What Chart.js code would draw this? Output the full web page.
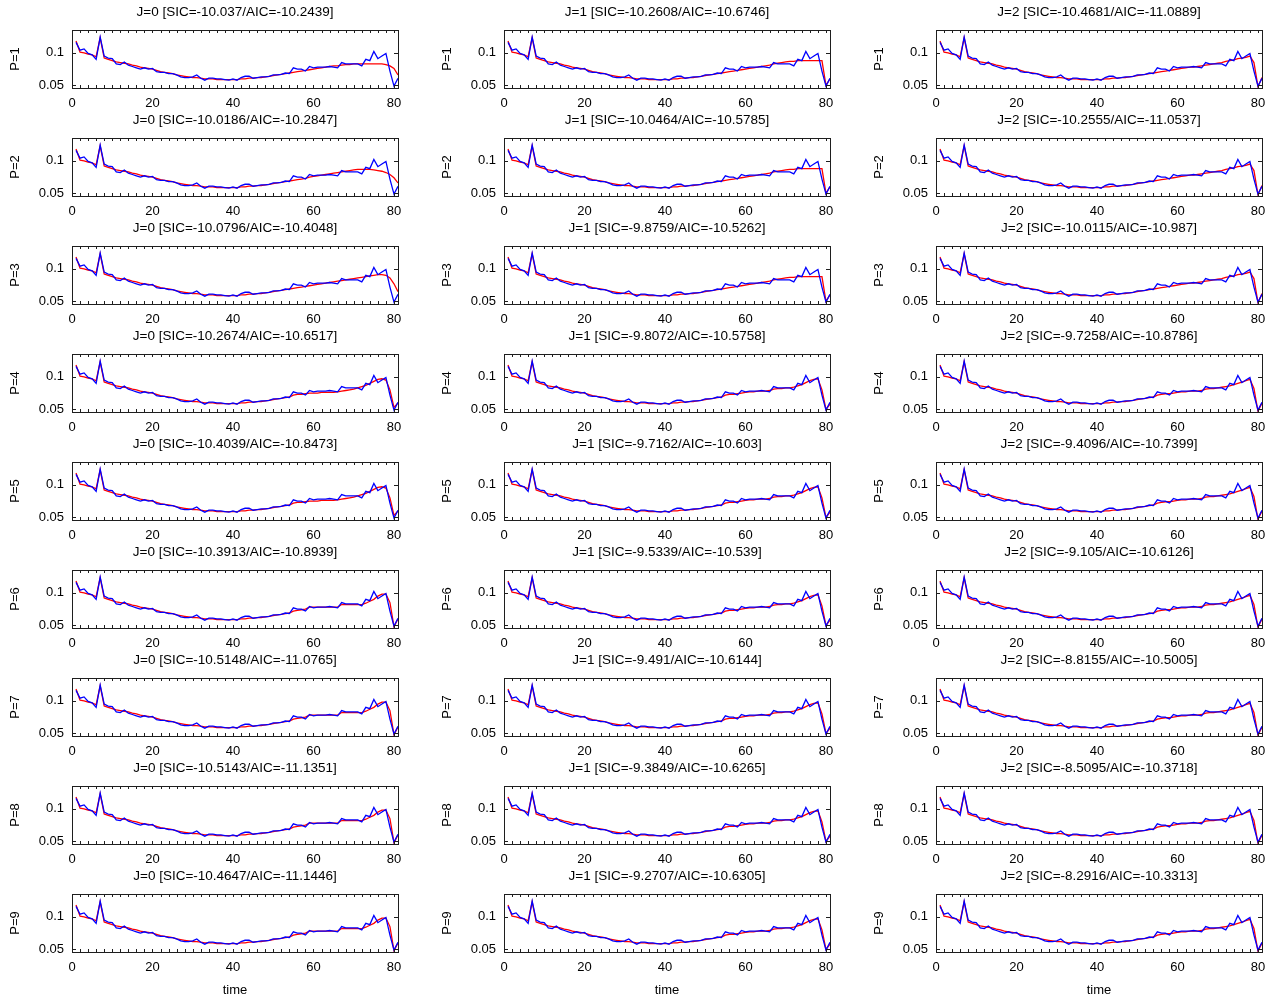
<!DOCTYPE html>
<html>
<head>
<meta charset="utf-8">
<script src="https://cdn.jsdelivr.net/npm/chart.js@4.4.1/dist/chart.umd.min.js"></script>
<style>
  html, body { margin: 0; padding: 0; background: #fff; }
  #grid { position: relative; width: 1276px; height: 1004px; overflow: hidden; }
  #grid canvas { position: absolute; }
</style>
</head>
<body>
<div id="grid"></div>
<script>
// ---- data -------------------------------------------------------------
const timeSteps = Array.from({ length: 81 }, (_, i) => i + 1);

// observed series (blue), t = 1..81
const observed = [
  0.116, 0.104, 0.106, 0.099, 0.097, 0.090, 0.124, 0.095, 0.092, 0.091,
  0.083, 0.082, 0.086, 0.081, 0.079, 0.077, 0.075, 0.077, 0.075, 0.076,
  0.071, 0.070, 0.070, 0.068, 0.068, 0.066, 0.063, 0.062, 0.062, 0.063,
  0.066, 0.061, 0.058, 0.061, 0.061, 0.060, 0.060, 0.059, 0.058, 0.060,
  0.058, 0.062, 0.064, 0.064, 0.061, 0.062, 0.063, 0.063, 0.064, 0.066,
  0.066, 0.067, 0.069, 0.068, 0.077, 0.075, 0.075, 0.072, 0.079, 0.077,
  0.078, 0.078, 0.078, 0.079, 0.078, 0.077, 0.085, 0.083, 0.083, 0.083,
  0.083, 0.080, 0.090, 0.088, 0.102, 0.091, 0.095, 0.099, 0.072, 0.049, 0.061
];

// fitted series (red): common part t = 1..54
const fitHead = [
  0.118, 0.101, 0.100, 0.098, 0.097, 0.094, 0.123, 0.092, 0.090, 0.088,
  0.086, 0.085, 0.084, 0.083, 0.081, 0.080, 0.078, 0.077, 0.076, 0.075,
  0.073, 0.071, 0.070, 0.069, 0.068, 0.066, 0.065, 0.064, 0.063, 0.062,
  0.062, 0.061, 0.060, 0.060, 0.060, 0.059, 0.059, 0.059, 0.059, 0.059,
  0.059, 0.060, 0.060, 0.061, 0.061, 0.062, 0.062, 0.063, 0.064, 0.065,
  0.066, 0.067, 0.068, 0.069
];

// fitted series (red): model-specific part t = 55..81
const tailJ0P1 = [0.070,0.071,0.072,0.073,0.074,0.075,0.076,0.077,0.078,0.079,0.080,0.080,0.081,0.082,0.082,0.083,0.083,0.083,0.083,0.083,0.083,0.083,0.083,0.082,0.080,0.076,0.066];
const tailJ0P2 = [0.070,0.071,0.072,0.073,0.075,0.076,0.077,0.078,0.079,0.080,0.081,0.082,0.083,0.084,0.085,0.086,0.087,0.087,0.087,0.087,0.086,0.085,0.084,0.082,0.079,0.074,0.066];
const tailJ0P3 = [0.070,0.071,0.072,0.073,0.074,0.075,0.076,0.077,0.078,0.079,0.080,0.081,0.082,0.083,0.084,0.085,0.086,0.087,0.088,0.089,0.090,0.091,0.091,0.090,0.086,0.077,0.065];
const tailJ0P4 = [0.072,0.073,0.073,0.074,0.075,0.075,0.075,0.076,0.076,0.076,0.076,0.077,0.078,0.079,0.080,0.081,0.083,0.085,0.087,0.090,0.093,0.096,0.097,0.095,0.080,0.053,0.060];
const tailJ0P6 = [0.072,0.073,0.074,0.075,0.078,0.078,0.078,0.078,0.078,0.078,0.078,0.078,0.082,0.082,0.082,0.082,0.082,0.082,0.084,0.087,0.090,0.095,0.098,0.098,0.085,0.048,0.060];
const tailJ1P1 = [0.070,0.071,0.072,0.073,0.074,0.075,0.076,0.077,0.078,0.079,0.080,0.081,0.083,0.084,0.085,0.086,0.087,0.087,0.088,0.088,0.088,0.088,0.088,0.088,0.088,0.050,0.060];
const tailJ1P4 = [0.072,0.073,0.073,0.074,0.075,0.076,0.077,0.077,0.078,0.078,0.078,0.079,0.081,0.082,0.082,0.083,0.083,0.084,0.086,0.088,0.091,0.094,0.096,0.097,0.080,0.050,0.058];
const tailJ2P1 = [0.070,0.071,0.072,0.073,0.074,0.075,0.076,0.077,0.078,0.078,0.079,0.080,0.081,0.082,0.083,0.084,0.085,0.087,0.088,0.089,0.091,0.092,0.093,0.095,0.085,0.048,0.062];
const tailJ2P4 = [0.072,0.073,0.074,0.074,0.075,0.076,0.077,0.077,0.078,0.078,0.078,0.079,0.081,0.082,0.082,0.083,0.084,0.085,0.086,0.088,0.090,0.092,0.094,0.096,0.082,0.047,0.060];

// which tail each (P row, J column) model uses
const tailByModel = [
  [tailJ0P1, tailJ1P1, tailJ2P1],
  [tailJ0P2, tailJ1P1, tailJ2P1],
  [tailJ0P3, tailJ1P1, tailJ2P1],
  [tailJ0P4, tailJ1P4, tailJ2P4],
  [tailJ0P4, tailJ1P4, tailJ2P4],
  [tailJ0P6, tailJ1P4, tailJ2P4],
  [tailJ0P6, tailJ1P4, tailJ2P4],
  [tailJ0P6, tailJ1P4, tailJ2P4],
  [tailJ0P6, tailJ1P4, tailJ2P4]
];

const jOrders = [0, 1, 2];
const pOrders = [1, 2, 3, 4, 5, 6, 7, 8, 9];

const sicValues = [
  ['-10.037',  '-10.2608', '-10.4681'],
  ['-10.0186', '-10.0464', '-10.2555'],
  ['-10.0796', '-9.8759',  '-10.0115'],
  ['-10.2674', '-9.8072',  '-9.7258'],
  ['-10.4039', '-9.7162',  '-9.4096'],
  ['-10.3913', '-9.5339',  '-9.105'],
  ['-10.5148', '-9.491',   '-8.8155'],
  ['-10.5143', '-9.3849',  '-8.5095'],
  ['-10.4647', '-9.2707',  '-8.2916']
];
const aicValues = [
  ['-10.2439', '-10.6746', '-11.0889'],
  ['-10.2847', '-10.5785', '-11.0537'],
  ['-10.4048', '-10.5262', '-10.987'],
  ['-10.6517', '-10.5758', '-10.8786'],
  ['-10.8473', '-10.603',  '-10.7399'],
  ['-10.8939', '-10.539',  '-10.6126'],
  ['-11.0765', '-10.6144', '-10.5005'],
  ['-11.1351', '-10.6265', '-10.3718'],
  ['-11.1446', '-10.6305', '-10.3313']
];

const xTickValues = [0, 20, 40, 60, 80];
const yTickValues = [0.05, 0.1];
const xMinorStep = 2;
const xRange = [0, 81];
const yRange = [0.046, 0.135];

// ---- layout -----------------------------------------------------------
const COL_PITCH = 432, ROW_PITCH = 108;
const AXIS_W = 72, TITLE_H = 30, PLOT_W = 326, PLOT_H = 58;
const XLAB_H = 22, XLAB_LAST_H = 52, RIGHT_PAD = 12;

Chart.defaults.font.family = '"Liberation Sans", Arial, Helvetica, sans-serif';
Chart.defaults.font.size = 13;
Chart.defaults.color = '#000';

// box around the plot area plus inward tick marks on all four sides
const frameAndTicks = {
  id: 'frameAndTicks',
  afterDatasetsDraw(chart) {
    const { ctx, chartArea: a, scales: { x, y } } = chart;
    ctx.save();
    ctx.strokeStyle = '#1e1e1e';
    ctx.lineWidth = 1;
    ctx.beginPath();
    for (let v = xTickValues[0]; v <= xTickValues[xTickValues.length - 1]; v += xMinorStep) {
      const px = Math.round(x.getPixelForValue(v)) + 0.5;
      ctx.moveTo(px, a.bottom); ctx.lineTo(px, a.bottom - 3);
      ctx.moveTo(px, a.top);    ctx.lineTo(px, a.top + 3);
    }
    yTickValues.forEach(v => {
      const py = Math.round(y.getPixelForValue(v)) + 0.5;
      ctx.moveTo(a.left, py);  ctx.lineTo(a.left + 4, py);
      ctx.moveTo(a.right, py); ctx.lineTo(a.right - 4, py);
    });
    ctx.stroke();
    ctx.strokeRect(Math.round(a.left) + 0.5, Math.round(a.top) + 0.5,
                   Math.round(a.width), Math.round(a.height));
    ctx.restore();
  }
};

const grid = document.getElementById('grid');

pOrders.forEach((p, r) => {
  jOrders.forEach((j, c) => {
    const lastRow = r === pOrders.length - 1;
    const xh = lastRow ? XLAB_LAST_H : XLAB_H;
    const canvas = document.createElement('canvas');
    canvas.width = AXIS_W + PLOT_W + RIGHT_PAD;
    canvas.height = TITLE_H + PLOT_H + xh;
    canvas.style.left = (c * COL_PITCH) + 'px';
    canvas.style.top = (r * ROW_PITCH) + 'px';
    grid.appendChild(canvas);

    const fitted = fitHead.concat(tailByModel[r][c]);

    new Chart(canvas, {
      type: 'line',
      data: {
        datasets: [
          {
            data: timeSteps.map((t, i) => ({ x: t, y: observed[i] })),
            borderColor: '#0000ff',
            borderWidth: 1.3,
            pointRadius: 0,
            tension: 0
          },
          {
            data: timeSteps.map((t, i) => ({ x: t, y: fitted[i] })),
            borderColor: '#ff0000',
            borderWidth: 1.3,
            pointRadius: 0,
            tension: 0
          }
        ]
      },
      options: {
        responsive: false,
        animation: false,
        devicePixelRatio: 1,
        events: [],
        layout: { autoPadding: false, padding: { left: 0, right: RIGHT_PAD, top: 0, bottom: 0 } },
        plugins: {
          legend: { display: false },
          tooltip: { enabled: false },
          title: {
            display: true,
            fullSize: false,
            text: 'J=' + j + ' [SIC=' + sicValues[r][c] + '/AIC=' + aicValues[r][c] + ']',
            color: '#000',
            font: { size: 13.5, weight: 'normal' },
            padding: { top: 4, bottom: 9.8 }
          }
        },
        scales: {
          x: {
            type: 'linear',
            min: xRange[0],
            max: xRange[1],
            grid: { display: false, drawTicks: false },
            border: { display: false },
            ticks: { padding: 8, maxRotation: 0, autoSkip: false, includeBounds: false,
                     callback: v => String(v) },
            afterBuildTicks: s => { s.ticks = xTickValues.map(v => ({ value: v })); },
            afterFit: s => { s.height = xh; },
            title: lastRow
              ? { display: true, text: 'time', font: { size: 13 }, padding: { top: 0, bottom: 6 } }
              : { display: false }
          },
          y: {
            type: 'linear',
            min: yRange[0],
            max: yRange[1],
            grid: { display: false, drawTicks: false },
            border: { display: false },
            ticks: { padding: 8, includeBounds: false, callback: v => String(v) },
            afterBuildTicks: s => { s.ticks = yTickValues.map(v => ({ value: v })); },
            afterFit: s => { s.width = AXIS_W; },
            title: { display: true, text: 'P=' + p, font: { size: 13 }, padding: { top: 8, bottom: 0 } }
          }
        }
      },
      plugins: [frameAndTicks]
    });
  });
});
</script>
</body>
</html>
